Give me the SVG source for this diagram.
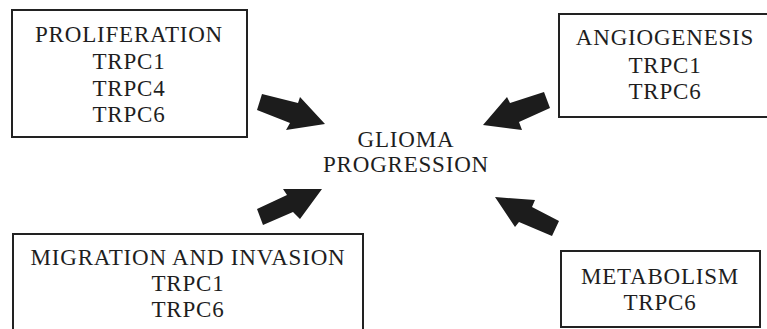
<svg xmlns="http://www.w3.org/2000/svg" width="767" height="329" viewBox="0 0 767 329">
<style>
.box{fill:#fff;stroke:#222;stroke-width:2}
.t{font-family:"Liberation Serif","Times New Roman",serif;font-size:23px;fill:#1e1e1e;text-anchor:middle;letter-spacing:0.8px}
.arr{fill:#1c1c1c;stroke:none}
</style>
<rect width="767" height="329" fill="#fff"/>
<g id="proliferation">
<rect class="box" x="12" y="10" width="235" height="127"/>
<text class="t" x="129" y="42">PROLIFERATION</text>
<text class="t" x="129" y="69">TRPC1</text>
<text class="t" x="129" y="96">TRPC4</text>
<text class="t" x="129" y="122">TRPC6</text>
</g>
<g id="angiogenesis">
<rect class="box" x="559" y="14" width="220" height="103"/>
<text class="t" x="665" y="45">ANGIOGENESIS</text>
<text class="t" x="665" y="73">TRPC1</text>
<text class="t" x="665" y="99">TRPC6</text>
</g>
<g id="glioma">
<text class="t" x="406" y="147">GLIOMA</text>
<text class="t" x="406" y="172">PROGRESSION</text>
</g>
<g id="migration">
<rect class="box" x="13" y="234" width="350" height="110"/>
<text class="t" x="188" y="265">MIGRATION AND INVASION</text>
<text class="t" x="188" y="291">TRPC1</text>
<text class="t" x="188" y="317">TRPC6</text>
</g>
<g id="metabolism">
<rect class="box" x="561" y="251" width="199" height="76"/>
<text class="t" x="660" y="284">METABOLISM</text>
<text class="t" x="660" y="310">TRPC6</text>
</g>
<g id="connectors">
<polygon class="arr" points="262,94 298,103 300,97 325,124 286,130 290,123 257,110"/>
<polygon class="arr" points="544,92 510,103 507,97 483,125 522,130 519,122 550,108"/>
<polygon class="arr" points="322,189 283,189 287,195 257,209 263,225 293,212 300,219"/>
<polygon class="arr" points="495,197 535,200 532,207 559,221 552,236 519,222 515,227"/>
</g>
</svg>
